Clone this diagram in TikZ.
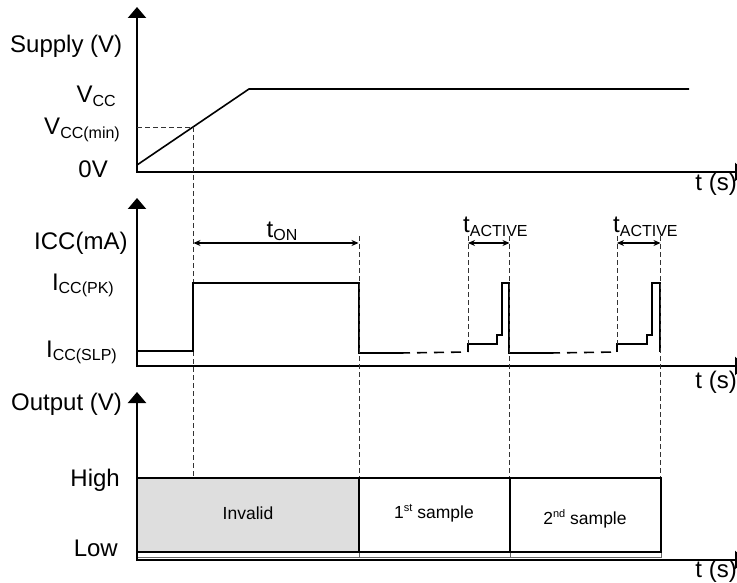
\documentclass[tikz,border=0pt]{standalone}
\usepackage{fontspec}
\setmainfont{Liberation Sans}
\usetikzlibrary{arrows.meta}
\newcommand\lowsub[1]{\raisebox{-0.3ex}{\fontsize{16}{16}\selectfont #1}}
\newcommand\hisup[1]{\raisebox{0.75ex}{\fontsize{11}{11}\selectfont #1}}
\definecolor{invalidgray}{HTML}{DEDEDE}
\begin{document}
\begin{tikzpicture}[x=1pt,y=-1pt,
  axis/.style={line width=2.2pt,-{Triangle[width=18pt,length=11pt]}},
  wave/.style={line width=1.6pt,line join=miter},
  wavedash/.style={line width=1.6pt,dash pattern=on 10pt off 7pt},
  guide/.style={line width=0.9pt,dash pattern=on 5pt off 3pt,black!80},
  dimline/.style={line width=1pt,{Stealth[length=7pt,width=6pt]}-{Stealth[length=7pt,width=6pt]}},
  lbl/.style={font=\fontsize{24}{27}\selectfont,inner sep=0pt},
  boxtxt/.style={font=\fontsize{17.5}{20}\selectfont,inner sep=0pt},
  outbox/.style={line width=1.4pt}]
\useasboundingbox (0,0) rectangle (737,583);

% ---------- Supply panel ----------
\draw[axis] (136,172) -- (746,172);
\draw[axis] (137,173) -- (137,7);
\node[lbl,anchor=base west] (supply) at (10,53) {Supply (V)};
\node[lbl,anchor=base east] (vcc) at (116,103) {V\lowsub{CC}};
\node[lbl,anchor=base east] (vccmin) at (120,135) {V\lowsub{CC(min)}};
\node[lbl,anchor=base east] (zerov) at (108,178) {0V};
\node[lbl,anchor=base east] (ts1) at (737,191) {t (s)};
\coordinate (r0) at (137,165);
\coordinate (r1) at (249,89);
\coordinate (r2) at (689,89);
\draw[wave] (r0) -- (r1) -- (r2);
\coordinate (vmin) at (137,127);
\coordinate (cross) at (193,127);
\coordinate (g1b) at (193,478);
\draw[guide] (vmin) -- (cross) -- (g1b);

% ---------- ICC panel ----------
\draw[axis] (136,366) -- (746,366);
\draw[axis] (137,367) -- (137,198);
\node[lbl,anchor=base west] (icc) at (34,249) {ICC(mA)};
\node[lbl,anchor=base east] (iccpk) at (114,290) {I\lowsub{CC(PK)}};
\node[lbl,anchor=base east] (iccslp) at (117,357) {I\lowsub{CC(SLP)}};
\node[lbl,anchor=base east] (ts2) at (737,388) {t (s)};

\draw[wave] (137,351) -- (193,351) -- (193,283) -- (359,283) -- (359,353) -- (400,353);
\draw[wavedash] (400,353) -- (468,352);
\draw[wave] (468,352) -- (468,344) -- (497,344) -- (497,335) -- (502,335) -- (502,283) -- (509,283) -- (509,353) -- (550,353);
\draw[wavedash] (550,353) -- (617,352);
\draw[wave] (617,352) -- (617,344) -- (647,344) -- (647,335) -- (652,335) -- (652,283) -- (660,283) -- (660,352);

% guides
\coordinate (g2t) at (359,236); \coordinate (g2b) at (359,478);
\coordinate (g3t) at (468,236); \coordinate (g3b) at (468,344);
\coordinate (g4t) at (509.5,236); \coordinate (g4b) at (509.5,478);
\coordinate (g5t) at (617,236); \coordinate (g5b) at (617,344);
\coordinate (g6t) at (660.5,236); \coordinate (g6b) at (660.5,478);
\draw[guide] (g2t) -- (g2b);
\draw[guide] (g3t) -- (g3b);
\draw[guide] (g4t) -- (g4b);
\draw[guide] (g5t) -- (g5b);
\draw[guide] (g6t) -- (g6b);

% dimension arrows
\coordinate (ton1) at (193.5,243); \coordinate (ton2) at (358.5,243);
\draw[dimline] (ton1) -- (ton2);
\node[lbl,anchor=base] (tonl) at (282,237) {t\lowsub{ON}};
\coordinate (ta1) at (468,243); \coordinate (ta2) at (509.5,243);
\draw[dimline] (ta1) -- (ta2);
\node[lbl,anchor=base west] (tact1) at (463,233) {t\lowsub{ACTIVE}};
\coordinate (tb1) at (617,243); \coordinate (tb2) at (660.5,243);
\draw[dimline] (tb1) -- (tb2);
\node[lbl,anchor=base west] (tact2) at (613,233) {t\lowsub{ACTIVE}};

% ---------- Output panel ----------
\node[lbl,anchor=base west] (outl) at (11,410) {Output (V)};
\node[lbl,anchor=base east] (high) at (120,486) {High};
\node[lbl,anchor=base east] (low) at (118,556) {Low};
\node[lbl,anchor=base east] (ts3) at (737,577) {t (s)};

\draw[black!60,line width=0.7pt] (137,552) rectangle (661,557.5);
\draw[black!60,line width=0.7pt] (359,552) -- (359,557.5) (510,552) -- (510,557.5);
\draw[outbox,fill=invalidgray] (137,478) rectangle (359,552);
\draw[outbox] (359,478) rectangle (510,552);
\draw[outbox] (510,478) rectangle (661,552);
\node[boxtxt] (invalid) at (248,513) {Invalid};
\node[boxtxt] (s1) at (434,513) {1\hisup{st} sample};
\node[boxtxt] (s2) at (585,519) {2\hisup{nd} sample};

\draw[axis] (136,560) -- (746,560);
\draw[axis] (137,561) -- (137,392);
\end{tikzpicture}
\end{document}
